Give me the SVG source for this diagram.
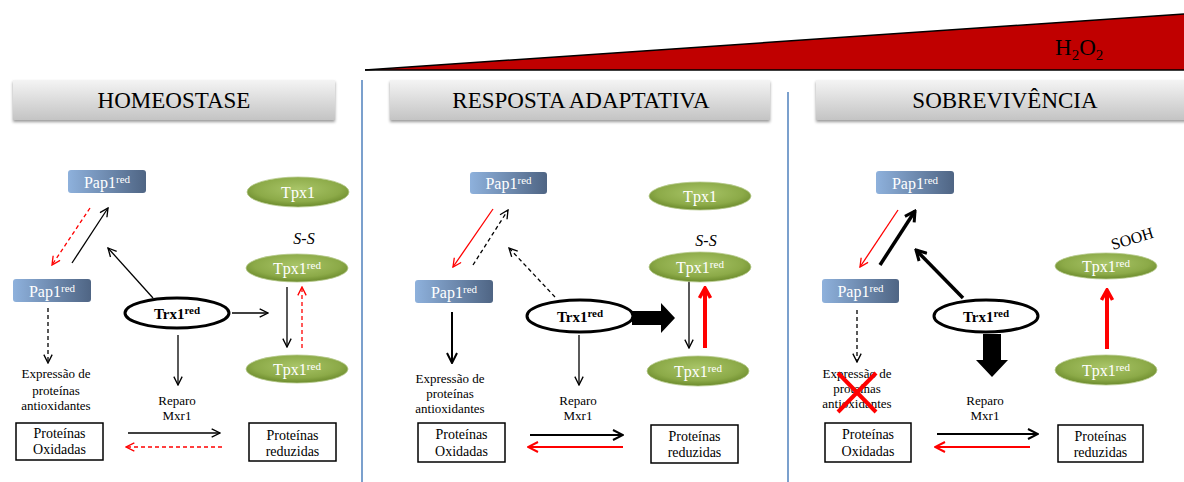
<svg xmlns="http://www.w3.org/2000/svg" width="1184" height="482" viewBox="0 0 1184 482" font-family="'Liberation Serif', 'DejaVu Serif', serif">
<style>
text{font-family:'Liberation Serif','DejaVu Serif',serif;}
.title{font-size:23px;fill:#000;text-anchor:middle;}
.pap{font-size:16px;fill:#fff;text-anchor:middle;}
.tpx{font-size:16px;fill:#fff;text-anchor:middle;}
.trx{font-size:15px;font-weight:bold;fill:#000;text-anchor:middle;}
.lbl{font-size:13px;fill:#000;text-anchor:middle;}
.bx{font-size:14px;fill:#000;text-anchor:middle;}
.sup{font-size:11px;}
.bar{fill:url(#gBar);filter:url(#shadow);}
.papbox{fill:url(#gPap);}
.tpxe{fill:url(#gTpx);stroke:#b5c98a;stroke-width:0.8;}
.trxe{fill:#fff;stroke:#000;stroke-width:3;}
.box{fill:#fff;stroke:#000;stroke-width:1.5;}
.div{stroke:#4f81bd;stroke-width:1.5;}
.k{stroke:#000;stroke-width:1.3;fill:none;marker-end:url(#ab);}
.r{stroke:#f00;stroke-width:1.3;fill:none;marker-end:url(#ar);}
.d{stroke-dasharray:4,3;}
.k2{stroke:#000;stroke-width:2;fill:none;marker-end:url(#ab2);}
.r2{stroke:#f00;stroke-width:2;fill:none;marker-end:url(#ar2);}
.k3{stroke:#000;stroke-width:3.5;fill:none;marker-end:url(#ab3);}
.r4{stroke:#f00;stroke-width:4;fill:none;marker-end:url(#ar4);}
</style>
<defs>
<linearGradient id="gBar" x1="0" y1="0" x2="0" y2="1">
<stop offset="0" stop-color="#f4f4f4"/>
<stop offset="1" stop-color="#c4c4c4"/>
</linearGradient>
<linearGradient id="gPap" x1="0" y1="0" x2="1" y2="0">
<stop offset="0" stop-color="#8eb1dc"/>
<stop offset="1" stop-color="#4f6584"/>
</linearGradient>
<radialGradient id="gTpx" cx="0.5" cy="0.4" r="0.6">
<stop offset="0" stop-color="#a9c568"/>
<stop offset="0.7" stop-color="#8caa48"/>
<stop offset="1" stop-color="#6b8a2c"/>
</radialGradient>
<filter id="shadow" x="-5%" y="-20%" width="110%" height="150%">
<feDropShadow dx="0" dy="2" stdDeviation="1.5" flood-color="#000" flood-opacity="0.4"/>
</filter>
<marker id="ab" viewBox="0 0 12 12" refX="11" refY="6" markerWidth="10" markerHeight="10" markerUnits="userSpaceOnUse" orient="auto"><path d="M1,1 L11,6 L1,11" fill="none" stroke="#000" stroke-width="1.6"/></marker>
<marker id="ar" viewBox="0 0 12 12" refX="11" refY="6" markerWidth="10" markerHeight="10" markerUnits="userSpaceOnUse" orient="auto"><path d="M1,1 L11,6 L1,11" fill="none" stroke="#f00" stroke-width="1.6"/></marker>
<marker id="ab2" viewBox="0 0 12 12" refX="11" refY="6" markerWidth="12" markerHeight="12" markerUnits="userSpaceOnUse" orient="auto"><path d="M1,1 L11,6 L1,11" fill="none" stroke="#000" stroke-width="2"/></marker>
<marker id="ar2" viewBox="0 0 12 12" refX="11" refY="6" markerWidth="12" markerHeight="12" markerUnits="userSpaceOnUse" orient="auto"><path d="M1,1 L11,6 L1,11" fill="none" stroke="#f00" stroke-width="2"/></marker>
<marker id="ab3" viewBox="0 0 14 14" refX="12" refY="7" markerWidth="14" markerHeight="14" markerUnits="userSpaceOnUse" orient="auto"><path d="M2,1.5 L12,7 L2,12.5" fill="none" stroke="#000" stroke-width="3"/></marker>
<marker id="ar4" viewBox="0 0 14 14" refX="12" refY="7" markerWidth="14" markerHeight="14" markerUnits="userSpaceOnUse" orient="auto"><path d="M2,1.5 L12,7 L2,12.5" fill="none" stroke="#f00" stroke-width="3.5"/></marker>
</defs>
<rect width="1184" height="482" fill="#fff"/>

<g id="h2o2-gradient">
<polygon points="365,70 1184,14 1184,70" fill="#c00000"/>
<line x1="365" y1="70" x2="1184" y2="14" stroke="#000" stroke-width="1.5"/>
<line x1="365" y1="70" x2="1184" y2="70" stroke="#000" stroke-width="1.5"/>
<text x="1055" y="55" font-size="23" fill="#000">H<tspan dy="5" font-size="15">2</tspan><tspan dy="-5">O</tspan><tspan dy="5" font-size="15">2</tspan></text>
</g>

<g id="dividers">
<line class="div" x1="362" y1="80" x2="362" y2="482"/>
<line class="div" x1="788" y1="92" x2="788" y2="482"/>
</g>

<g id="title-homeostase"><rect class="bar" x="13" y="80" width="322" height="40"/><text class="title" x="174" y="108">HOMEOSTASE</text></g>
<g id="title-resposta"><rect class="bar" x="390" y="80" width="380" height="40"/><text class="title" x="581" y="108">RESPOSTA ADAPTATIVA</text></g>
<g id="title-sobrevivencia"><rect class="bar" x="816" y="80" width="372" height="40"/><text class="title" x="1005" y="108">SOBREVIVÊNCIA</text></g>

<g id="connectors">
<line class="r d" x1="90" y1="208" x2="52" y2="265"/>
<line class="k" x1="72" y1="263" x2="108" y2="208"/>
<line class="k" x1="153" y1="298" x2="108" y2="248"/>
<line class="k" x1="232" y1="313" x2="268" y2="313"/>
<line class="k" x1="287" y1="287" x2="287" y2="347"/>
<line class="r d" x1="302" y1="348" x2="302" y2="287"/>
<line class="k d" x1="48" y1="308" x2="48" y2="363"/>
<line class="k" x1="178" y1="335" x2="178" y2="385"/>
<line class="k" x1="128" y1="433" x2="220" y2="433"/>
<line class="r d" x1="222" y1="447" x2="126" y2="447"/>
<line class="r" x1="493" y1="209" x2="453" y2="267"/>
<line class="k d" x1="473" y1="265" x2="508" y2="210"/>
<line class="k d" x1="555" y1="297" x2="509" y2="248"/>
<polygon points="632,311 661,311 661,303 675,318 661,333 661,325 632,325" fill="#000"/>
<line class="k" x1="689" y1="278" x2="689" y2="348"/>
<line class="r4" x1="705" y1="348" x2="705" y2="288"/>
<line class="k2" x1="452" y1="312" x2="452" y2="363"/>
<line class="k" x1="579" y1="335" x2="579" y2="385"/>
<line class="k2" x1="530" y1="435" x2="623" y2="435"/>
<line class="r2" x1="623" y1="447" x2="528" y2="447"/>
<line class="r" x1="898" y1="210" x2="860" y2="267"/>
<line class="k3" x1="880" y1="265" x2="915" y2="211"/>
<line class="k3" x1="963" y1="298" x2="916" y2="250"/>
<polygon points="983,334 1001,334 1001,360 1008,360 992,377 976,360 983,360" fill="#000"/>
<line class="r4" x1="1107" y1="349" x2="1107" y2="290"/>
<line class="k d" x1="857" y1="310" x2="857" y2="362"/>
<line class="k2" x1="937" y1="434" x2="1038" y2="434"/>
<line class="r2" x1="1030" y1="447" x2="935" y2="447"/>
</g>

<g id="p1-pap1-top"><rect class="papbox" x="68" y="170" width="78" height="23" rx="3"/><text class="pap" x="107" y="188">Pap1<tspan class="sup" dy="-5">red</tspan></text></g>
<g id="p1-pap1-left"><rect class="papbox" x="13" y="279" width="78" height="23" rx="3"/><text class="pap" x="52" y="297">Pap1<tspan class="sup" dy="-5">red</tspan></text></g>
<g id="p1-tpx1"><ellipse class="tpxe" cx="298" cy="192" rx="51" ry="15"/><text class="tpx" x="298" y="198">Tpx1</text></g>
<g id="p1-ss"><text x="304" y="244" font-size="16" font-style="italic" text-anchor="middle">S-S</text></g>
<g id="p1-tpx1red-mid"><ellipse class="tpxe" cx="297" cy="268" rx="51" ry="14"/><text class="tpx" x="297" y="274">Tpx1<tspan class="sup" dy="-5">red</tspan></text></g>
<g id="p1-tpx1red-bot"><ellipse class="tpxe" cx="297" cy="369" rx="51" ry="14"/><text class="tpx" x="297" y="375">Tpx1<tspan class="sup" dy="-5">red</tspan></text></g>
<g id="p1-trx1"><ellipse class="trxe" cx="177" cy="313" rx="52" ry="15"/><text class="trx" x="177" y="319">Trx1<tspan class="sup" dy="-5">red</tspan></text></g>
<g id="p1-expressao"><text class="lbl" x="56" y="378">Expressão de</text><text class="lbl" x="56" y="395">proteínas</text><text class="lbl" x="56" y="410">antioxidantes</text></g>
<g id="p1-reparo"><text class="lbl" x="177" y="405">Reparo</text><text class="lbl" x="177" y="420">Mxr1</text></g>
<g id="p1-oxidadas"><rect class="box" x="16" y="423" width="87" height="37"/><text class="bx" x="59.5" y="438">Proteínas</text><text class="bx" x="59.5" y="454">Oxidadas</text></g>
<g id="p1-reduzidas"><rect class="box" x="249" y="423" width="87" height="38"/><text class="bx" x="292.5" y="440">Proteínas</text><text class="bx" x="292.5" y="456">reduzidas</text></g>

<g id="p2-pap1-top"><rect class="papbox" x="470" y="172" width="77" height="22" rx="3"/><text class="pap" x="508.5" y="189">Pap1<tspan class="sup" dy="-5">red</tspan></text></g>
<g id="p2-pap1-left"><rect class="papbox" x="415" y="280" width="78" height="23" rx="3"/><text class="pap" x="454" y="298">Pap1<tspan class="sup" dy="-5">red</tspan></text></g>
<g id="p2-tpx1"><ellipse class="tpxe" cx="700" cy="196" rx="51" ry="14"/><text class="tpx" x="700" y="202">Tpx1</text></g>
<g id="p2-ss"><text x="706" y="246" font-size="16" font-style="italic" text-anchor="middle">S-S</text></g>
<g id="p2-tpx1red-mid"><ellipse class="tpxe" cx="700" cy="267" rx="51" ry="15"/><text class="tpx" x="700" y="273">Tpx1<tspan class="sup" dy="-5">red</tspan></text></g>
<g id="p2-tpx1red-bot"><ellipse class="tpxe" cx="698" cy="371" rx="51" ry="15"/><text class="tpx" x="698" y="377">Tpx1<tspan class="sup" dy="-5">red</tspan></text></g>
<g id="p2-trx1"><ellipse class="trxe" cx="580" cy="316" rx="53" ry="16"/><text class="trx" x="580" y="322">Trx1<tspan class="sup" dy="-5">red</tspan></text></g>
<g id="p2-expressao"><text class="lbl" x="450" y="383">Expressão de</text><text class="lbl" x="450" y="398">proteínas</text><text class="lbl" x="450" y="413">antioxidantes</text></g>
<g id="p2-reparo"><text class="lbl" x="578" y="405">Reparo</text><text class="lbl" x="578" y="420">Mxr1</text></g>
<g id="p2-oxidadas"><rect class="box" x="418" y="423" width="87" height="39"/><text class="bx" x="461.5" y="439">Proteínas</text><text class="bx" x="461.5" y="456">Oxidadas</text></g>
<g id="p2-reduzidas"><rect class="box" x="651" y="425" width="87" height="38"/><text class="bx" x="694.5" y="441">Proteínas</text><text class="bx" x="694.5" y="457">reduzidas</text></g>

<g id="p3-pap1-top"><rect class="papbox" x="876" y="171" width="78" height="23" rx="3"/><text class="pap" x="915" y="189">Pap1<tspan class="sup" dy="-5">red</tspan></text></g>
<g id="p3-pap1-left"><rect class="papbox" x="822" y="279" width="77" height="24" rx="3"/><text class="pap" x="860.5" y="297">Pap1<tspan class="sup" dy="-5">red</tspan></text></g>
<g id="p3-sooh"><text x="1132" y="244" font-size="16" text-anchor="middle" transform="rotate(-17 1132 238)">SOOH</text></g>
<g id="p3-tpx1red-top"><ellipse class="tpxe" cx="1106" cy="266" rx="51" ry="13"/><text class="tpx" x="1106" y="272">Tpx1<tspan class="sup" dy="-5">red</tspan></text></g>
<g id="p3-tpx1red-bot"><ellipse class="tpxe" cx="1106" cy="370" rx="51" ry="15"/><text class="tpx" x="1106" y="376">Tpx1<tspan class="sup" dy="-5">red</tspan></text></g>
<g id="p3-trx1"><ellipse class="trxe" cx="986" cy="316" rx="52" ry="16"/><text class="trx" x="986" y="322">Trx1<tspan class="sup" dy="-5">red</tspan></text></g>
<g id="p3-expressao"><text class="lbl" x="857" y="378">Expressão de</text><text class="lbl" x="857" y="393">proteínas</text><text class="lbl" x="857" y="408">antioxidantes</text>
<line x1="838" y1="373" x2="876" y2="412" stroke="#f00" stroke-width="4"/><line x1="876" y1="373" x2="838" y2="412" stroke="#f00" stroke-width="4"/></g>
<g id="p3-reparo"><text class="lbl" x="985" y="405">Reparo</text><text class="lbl" x="985" y="420">Mxr1</text></g>
<g id="p3-oxidadas"><rect class="box" x="825" y="423" width="86" height="39"/><text class="bx" x="868" y="439">Proteínas</text><text class="bx" x="868" y="456">Oxidadas</text></g>
<g id="p3-reduzidas"><rect class="box" x="1058" y="425" width="85" height="37"/><text class="bx" x="1100.5" y="441">Proteínas</text><text class="bx" x="1100.5" y="457">reduzidas</text></g>
</svg>
